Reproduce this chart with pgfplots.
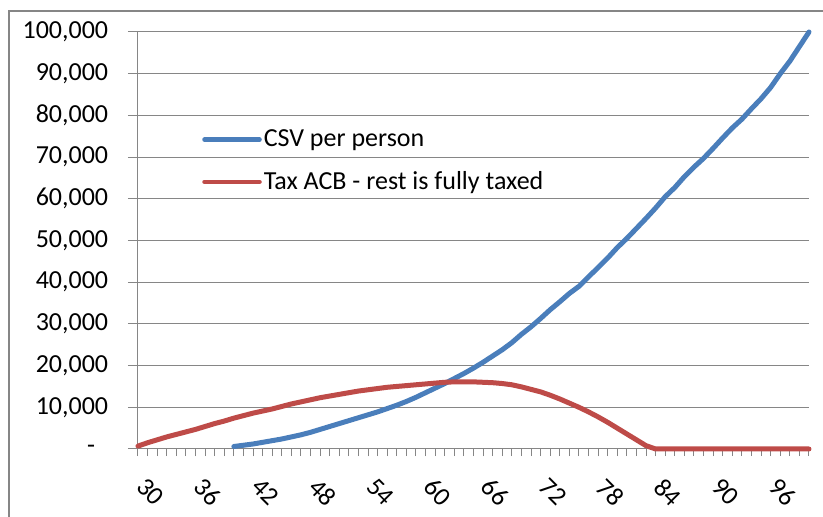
\documentclass[border=0pt]{standalone}
\usepackage{fontspec}
\setmainfont{Carlito}
\usepackage{pgfplots}
\pgfplotsset{compat=1.18}
\definecolor{csvblue}{HTML}{4A7EBB}
\definecolor{acbred}{HTML}{BE4B48}
\definecolor{gridgray}{HTML}{868686}
\begin{document}
\fontsize{26}{31}\selectfont
\begin{tikzpicture}
\useasboundingbox (0,0) rectangle (823pt,517pt);
% outer chart frame (cropped on the right and bottom)
\draw[gridgray, line width=1.5pt] (9pt,0pt) -- (9pt,506pt) -- (823pt,506pt);
\begin{axis}[
  at={(138pt,68pt)}, anchor=south west,
  scale only axis, width=671pt, height=417pt,
  xmin=30, xmax=100, ymin=0, ymax=100000,
  clip=false,
  axis lines=left,
  axis line style={gridgray, line width=1pt, -},
  xtick={30,36,...,96},
  minor xtick={31,...,100},
  ytick={0,10000,...,100000},
  yticklabels={{-\hspace*{0.5em}},{10,000},{20,000},{30,000},{40,000},{50,000},{60,000},{70,000},{80,000},{90,000},{100,000}},
  scaled y ticks=false,
  /pgf/number format/assume math mode=true,
  tick align=outside,
  major tick length=10pt,
  minor tick length=7pt,
  xtick style={/pgfplots/major tick length=7pt},
  tick style={gridgray, line width=1pt},
  ymajorgrids,
  grid style={gridgray, line width=1pt},
  xticklabel style={rotate=-45, anchor=north west, xshift=10pt, yshift=3pt},
  yticklabel style={xshift=-11pt},
  legend style={draw=none, fill=none, at={(0.091,0.777)}, anchor=north west,
    row sep=17pt, nodes={inner xsep=2pt}},
  legend cell align=left,
  legend image code/.code={\draw[#1, line width=4.5pt] (0pt,0pt) -- (55pt,0pt);},
]
\addplot[csvblue, line width=5pt, line join=round, line cap=round] coordinates {
(40,600)(41,900)(42,1200)(43,1600)(44,2000)(45,2400)(46,2900)(47,3400)(48,4000)(49,4700)
(50,5400)(51,6100)(52,6800)(53,7500)(54,8200)(55,8900)(56,9700)(57,10500)(58,11400)(59,12400)
(60,13500)(61,14600)(62,15700)(63,16900)(64,18100)(65,19400)(66,20800)(67,22300)(68,23800)(69,25500)
(70,27500)(71,29300)(72,31300)(73,33400)(74,35300)(75,37300)(76,39000)(77,41300)(78,43500)(79,45800)
(80,48300)(81,50500)(82,52900)(83,55300)(84,57800)(85,60500)(86,62700)(87,65300)(88,67600)(89,69700)
(90,72100)(91,74600)(92,77000)(93,79100)(94,81600)(95,84000)(96,86700)(97,90000)(98,93000)(99,96500)
(100,100000)
};
\addlegendentry{CSV per person}
\addplot[acbred, line width=5pt, line join=round, line cap=round] coordinates {
(30,700)(31,1500)(32,2200)(33,2900)(34,3500)(35,4100)(36,4700)(37,5400)(38,6100)(39,6700)
(40,7400)(41,8000)(42,8600)(43,9100)(44,9600)(45,10200)(46,10800)(47,11300)(48,11800)(49,12300)
(50,12700)(51,13100)(52,13500)(53,13900)(54,14200)(55,14500)(56,14800)(57,15000)(58,15200)(59,15400)
(60,15600)(61,15800)(62,16000)(63,16100)(64,16100)(65,16100)(66,16000)(67,15900)(68,15700)(69,15400)
(70,14900)(71,14300)(72,13700)(73,12900)(74,12000)(75,11000)(76,10000)(77,8900)(78,7700)(79,6400)
(80,5000)(81,3600)(82,2200)(83,800)(84,0)(85,0)(86,0)(87,0)(88,0)(89,0)
(90,0)(91,0)(92,0)(93,0)(94,0)(95,0)(96,0)(97,0)(98,0)(99,0)(100,0)
};
\addlegendentry{Tax ACB - rest is fully taxed}
\end{axis}
\end{tikzpicture}
\end{document}
